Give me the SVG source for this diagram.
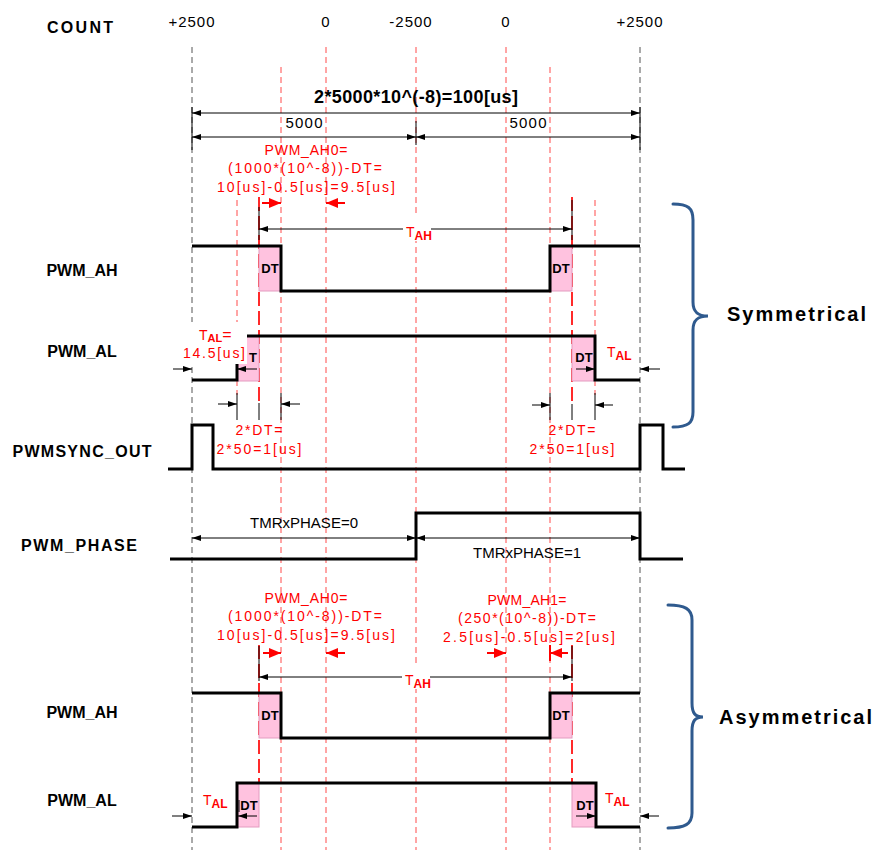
<svg xmlns="http://www.w3.org/2000/svg" width="875" height="850" viewBox="0 0 875 850">
<defs>
<style>
.lbl{font:bold 16px "Liberation Sans",Arial,sans-serif;text-anchor:middle;fill:#000}
.cnt{font:15px "Liberation Sans",Arial,sans-serif;text-anchor:middle;fill:#000;letter-spacing:1px}
.dim{font:15px "Liberation Sans",Arial,sans-serif;text-anchor:middle;fill:#000}
.red{font:14px "Liberation Sans",Arial,sans-serif;fill:#ff0000;text-anchor:middle}
.redl{font:14px "Liberation Sans",Arial,sans-serif;fill:#ff0000}
.gd{stroke:#555;stroke-width:1;stroke-dasharray:6 4;fill:none}
.rd{stroke:#ff4a4a;stroke-width:1;stroke-dasharray:6 4;fill:none}
.rl{stroke:#ff2a2a;stroke-width:2;stroke-dasharray:14 5;fill:none}
.w{stroke:#000;stroke-width:3;fill:none}
.dl{stroke:#000;stroke-width:1;fill:none;marker-start:url(#a);marker-end:url(#a)}
.ar{stroke:#000;stroke-width:1;fill:none;marker-end:url(#a)}
.ra{stroke:#f00;stroke-width:2;fill:none;marker-end:url(#r)}
.ex{stroke:#000;stroke-width:1}
.dt{fill:#ffc2df;stroke:#e39cc0;stroke-width:1}
.dtt{font:bold 13px "Liberation Sans",Arial,sans-serif;text-anchor:middle;fill:#000}
.br{stroke:#2f5a8e;stroke-width:3;fill:none;stroke-linecap:round}
.side{font:bold 20px "Liberation Sans",Arial,sans-serif;fill:#000}
.bg{fill:#fff}
</style>
<marker id="a" viewBox="0 0 9 6" refX="9" refY="3" markerWidth="9" markerHeight="6" markerUnits="userSpaceOnUse" orient="auto-start-reverse"><path d="M0,0L9,3L0,6z" fill="#000"/></marker>
<marker id="r" viewBox="0 0 12 10" refX="12" refY="5" markerWidth="12" markerHeight="10" markerUnits="userSpaceOnUse" orient="auto"><path d="M0,0L12,5L0,10z" fill="#f00"/></marker>
</defs>
<rect width="875" height="850" fill="#fff"/>

<g id="grid">
<line class="gd" x1="192" y1="47" x2="192" y2="850"/>
<line class="gd" x1="640" y1="47" x2="640" y2="850"/>
<line class="rd" x1="326" y1="47" x2="326" y2="850"/>
<line class="rd" x1="416" y1="47" x2="416" y2="850"/>
<line class="rd" x1="506" y1="47" x2="506" y2="850"/>
<line class="rd" x1="281" y1="67" x2="281" y2="850"/>
<line class="rd" x1="550" y1="67" x2="550" y2="850"/>
<line class="rd" x1="237" y1="200" x2="237" y2="395"/>
<line class="rd" x1="595" y1="200" x2="595" y2="395"/>
<line class="rl" x1="259" y1="197" x2="259" y2="402"/>
<line class="rl" x1="572" y1="197" x2="572" y2="402"/>
<line class="rl" x1="259" y1="645" x2="259" y2="783"/>
<line class="rl" x1="572" y1="645" x2="572" y2="783"/>
</g>

<g id="count">
<text class="lbl" x="80" y="33" font-size="17" textLength="66">COUNT</text>
<text class="cnt" x="192" y="27">+2500</text>
<text class="cnt" x="326" y="27">0</text>
<text class="cnt" x="411" y="27">-2500</text>
<text class="cnt" x="506" y="27">0</text>
<text class="cnt" x="640" y="27">+2500</text>
</g>

<g id="period">
<text x="416" y="103" text-anchor="middle" font-family="Liberation Sans, Arial, sans-serif" font-size="18" font-weight="bold" textLength="204" lengthAdjust="spacing">2*5000*10^(-8)=100[us]</text>
<text class="dim" x="304" y="128" textLength="37">5000</text>
<text class="dim" x="528" y="128" textLength="37">5000</text>
</g>

<g id="sym-annot">
<text class="red" x="306" y="155" textLength="83">PWM_AH0=</text>
<text class="red" x="305" y="173" textLength="154">(1000*(10^-8))-DT=</text>
<text class="red" x="306" y="192" textLength="178">10[us]-0.5[us]=9.5[us]</text>
<text class="red" x="259" y="435" textLength="47">2*DT=</text>
<text class="red" x="259" y="454" textLength="85">2*50=1[us]</text>
<text class="red" x="572" y="435" textLength="47">2*DT=</text>
<text class="red" x="572" y="454" textLength="85">2*50=1[us]</text>
</g>

<g id="sym-pwm-ah">
<text class="lbl" x="82" y="276">PWM_AH</text>
<rect class="dt" x="259" y="246" width="22" height="45"/>
<rect class="dt" x="550" y="246" width="22" height="45"/>
<path class="w" d="M192,246H281V291H550V246H640"/>
<text class="dtt" x="270" y="273">DT</text>
<text class="dtt" x="561" y="273">DT</text>
</g>

<g id="sym-pwm-al">
<text class="lbl" x="82" y="357">PWM_AL</text>
<rect class="dt" x="237" y="336" width="22" height="45"/>
<rect class="dt" x="572" y="336" width="23" height="45"/>
<path class="w" d="M192,380H237V336H595V380H640"/>
<text class="dtt" x="584" y="362">DT</text>
<rect class="bg" x="178" y="322" width="69" height="42"/>
<text class="dtt" x="253" y="362">T</text>
<text class="redl" x="199" y="340" font-size="17">T<tspan font-size="11" font-weight="bold" dy="2">AL</tspan><tspan font-size="16" dy="-2">=</tspan></text>
<text class="red" x="214" y="358" font-size="15" textLength="62">14.5[us]</text>
<text class="redl" x="607" y="357" font-size="19">T<tspan font-size="12" font-weight="bold" dy="3">AL</tspan></text>
</g>

<g id="pwmsync-out">
<text class="lbl" x="82" y="457" textLength="139">PWMSYNC_OUT</text>
<path class="w" d="M168,469H192V425H213V469H640V425H663V469H685"/>
</g>

<g id="pwm-phase">
<text class="lbl" x="79" y="551" textLength="116">PWM_PHASE</text>
<path class="w" d="M170,559H416V513H640V559H683"/>
<text class="dim" x="304" y="528" textLength="108">TMRxPHASE=0</text>
<text class="dim" x="527" y="558" textLength="108">TMRxPHASE=1</text>
</g>

<g id="asym-annot">
<text class="red" x="306" y="603" textLength="83">PWM_AH0=</text>
<text class="red" x="305" y="621" textLength="154">(1000*(10^-8))-DT=</text>
<text class="red" x="306" y="640" textLength="178">10[us]-0.5[us]=9.5[us]</text>
<text class="red" x="527" y="605" textLength="79">PWM_AH1=</text>
<text class="red" x="527" y="623" textLength="138">(250*(10^-8))-DT=</text>
<text class="red" x="529" y="642" textLength="172">2.5[us]-0.5[us]=2[us]</text>
</g>

<g id="asym-pwm-ah">
<text class="lbl" x="82" y="718">PWM_AH</text>
<rect class="dt" x="259" y="693" width="22" height="45"/>
<rect class="dt" x="550" y="693" width="22" height="45"/>
<path class="w" d="M192,693H281V738H550V693H640"/>
<text class="dtt" x="270" y="720">DT</text>
<text class="dtt" x="561" y="720">DT</text>
</g>

<g id="asym-pwm-al">
<text class="lbl" x="82" y="806">PWM_AL</text>
<rect class="dt" x="237" y="783" width="22" height="44"/>
<rect class="dt" x="572" y="783" width="24" height="44"/>
<path class="w" d="M192,827H237V783H596V827H640"/>
<text class="dtt" x="249" y="810">DT</text>
<text class="dtt" x="585" y="810">DT</text>
<text class="redl" x="203" y="805" font-size="19">T<tspan font-size="12" font-weight="bold" dy="3">AL</tspan></text>
<text class="redl" x="605" y="803" font-size="19">T<tspan font-size="12" font-weight="bold" dy="3">AL</tspan></text>
</g>

<g id="connectors">
<line class="ex" x1="192" y1="107" x2="192" y2="150"/>
<line class="ex" x1="640" y1="107" x2="640" y2="150"/>
<line class="ex" x1="416" y1="121" x2="416" y2="145"/>
<line class="dl" x1="192" y1="113" x2="640" y2="113"/>
<line class="dl" x1="192" y1="137" x2="416" y2="137"/>
<line class="dl" x1="416" y1="137" x2="640" y2="137"/>

<line class="ra" x1="262" y1="203" x2="281" y2="203"/>
<line class="ra" x1="345" y1="203" x2="326" y2="203"/>
<line class="ex" x1="259" y1="207" x2="259" y2="240"/>
<line class="ex" x1="572" y1="200" x2="572" y2="240"/>
<line class="dl" x1="259" y1="229" x2="572" y2="229"/>
<rect class="bg" x="403" y="217" width="28" height="24"/>
<text class="redl" x="406" y="237" font-size="18">T<tspan font-size="12" font-weight="bold" dy="3">AH</tspan></text>

<line class="ar" x1="173" y1="369" x2="192" y2="369"/>
<line class="ar" x1="257" y1="369" x2="237" y2="369"/>
<line class="ar" x1="576" y1="369" x2="595" y2="369"/>
<line class="ar" x1="660" y1="369" x2="640" y2="369"/>

<line class="ex" x1="237" y1="393" x2="237" y2="420"/>
<line class="ex" x1="281" y1="393" x2="281" y2="420"/>
<line class="ex" x1="259" y1="403" x2="259" y2="420"/>
<line class="ex" x1="550" y1="393" x2="550" y2="420"/>
<line class="ex" x1="595" y1="393" x2="595" y2="420"/>
<line class="ex" x1="572" y1="404" x2="572" y2="420"/>
<line class="ar" x1="218" y1="404" x2="237" y2="404"/>
<line class="ar" x1="300" y1="404" x2="281" y2="404"/>
<line class="ar" x1="532" y1="405" x2="550" y2="405"/>
<line class="ar" x1="613" y1="405" x2="595" y2="405"/>

<line class="dl" x1="192" y1="538" x2="416" y2="538"/>
<line class="dl" x1="416" y1="538" x2="640" y2="538"/>

<line class="ra" x1="263" y1="653" x2="281" y2="653"/>
<line class="ra" x1="345" y1="653" x2="326" y2="653"/>
<line class="ra" x1="487" y1="653" x2="506" y2="653"/>
<line class="ra" x1="568" y1="653" x2="550" y2="653"/>
<line stroke="#f00" stroke-width="2" x1="550" y1="645" x2="550" y2="661"/>
<line class="ex" x1="259" y1="646" x2="259" y2="681"/>
<line class="ex" x1="572" y1="646" x2="572" y2="681"/>
<line class="dl" x1="259" y1="677" x2="572" y2="677"/>
<rect class="bg" x="402" y="665" width="28" height="24"/>
<text class="redl" x="405" y="685" font-size="18">T<tspan font-size="12" font-weight="bold" dy="3">AH</tspan></text>

<line class="ar" x1="172" y1="816" x2="192" y2="816"/>
<line class="ar" x1="257" y1="816" x2="238" y2="816"/>
<line class="ex" x1="239" y1="800" x2="239" y2="812"/>
<line class="ar" x1="576" y1="816" x2="596" y2="816"/>
<line class="ar" x1="659" y1="816" x2="640" y2="816"/>
</g>

<g id="symmetrical">
<path class="br" d="M673,204C688,204 693,208 693,220L693,302C693,312 698,316 708,316C698,316 693,320 693,330L693,412C693,423 688,427 673,427"/>
<text class="side" x="727" y="321" textLength="139" lengthAdjust="spacing">Symmetrical</text>
</g>
<g id="asymmetrical">
<path class="br" d="M668,605C685,605 692,609 692,620L692,703C692,713 695,717 703,717C695,717 692,721 692,731L692,813C692,824 685,828 668,828"/>
<text class="side" x="719" y="724" textLength="153" lengthAdjust="spacing">Asymmetrical</text>
</g>
</svg>
